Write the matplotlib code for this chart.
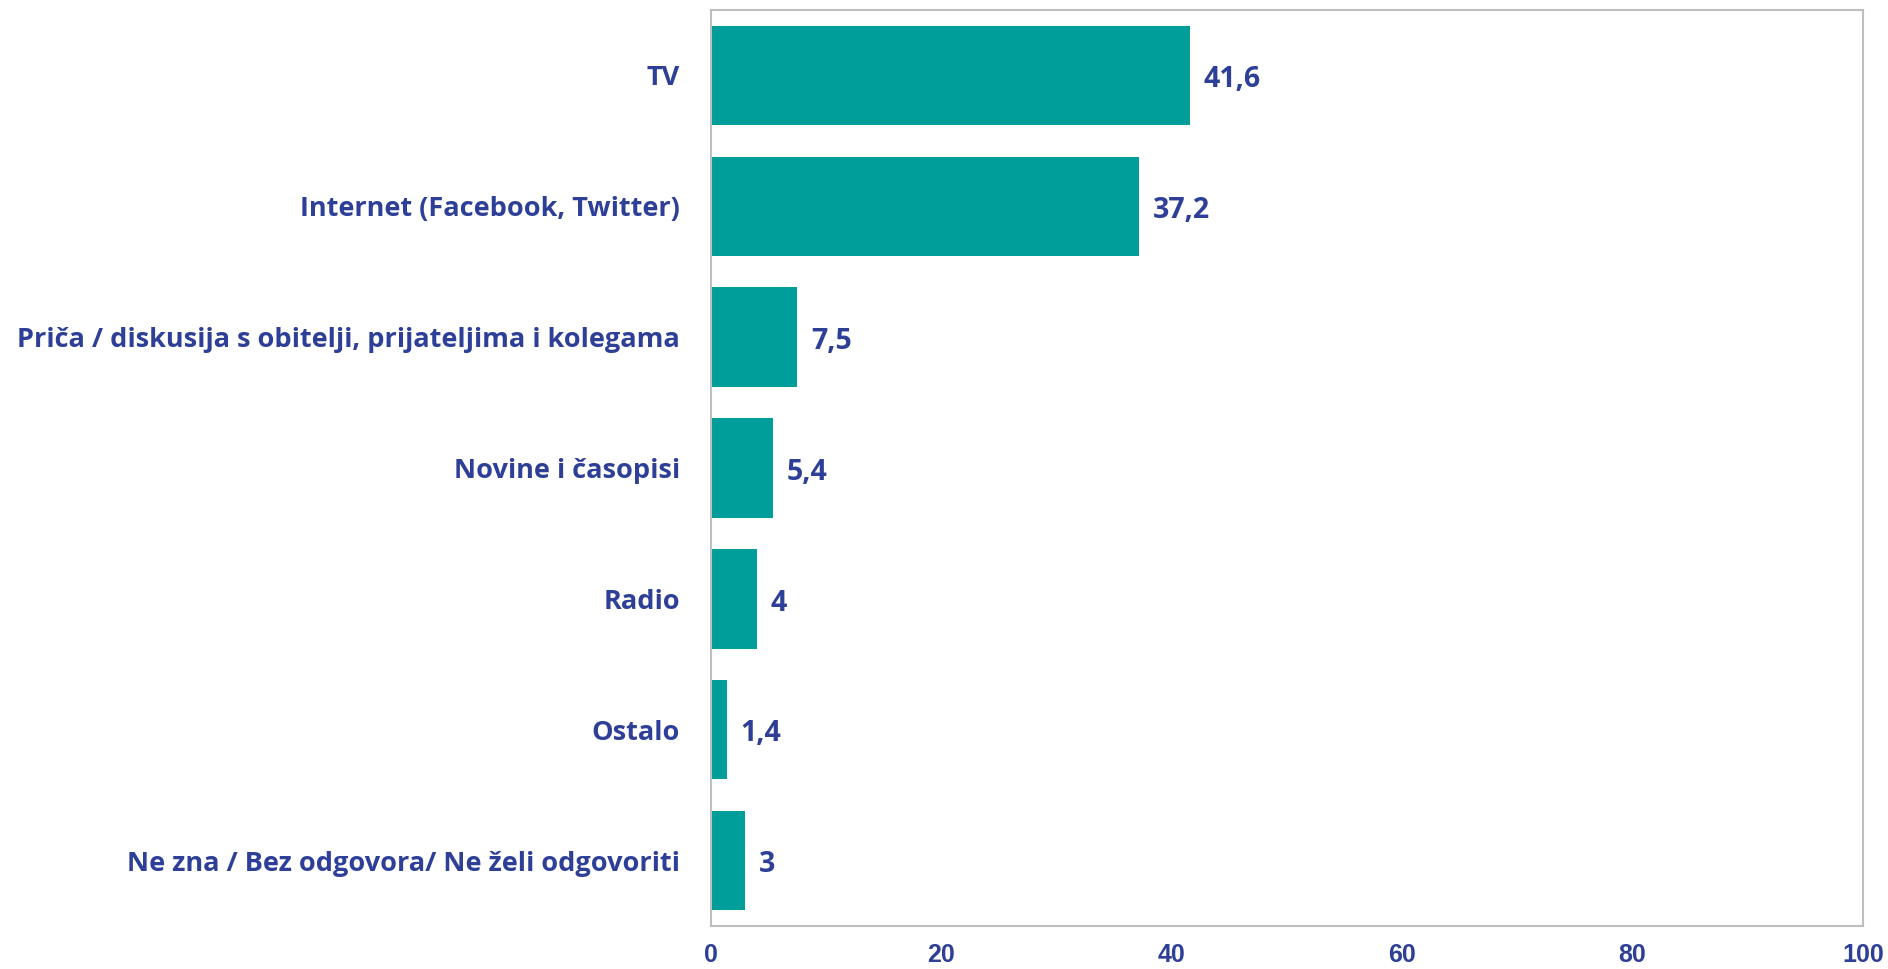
import matplotlib
matplotlib.use("Agg")
import matplotlib.pyplot as plt

categories = ["TV", "Internet (Facebook, Twitter)",
              "Priča / diskusija s obitelji, prijateljima i kolegama",
              "Novine i časopisi", "Radio", "Ostalo",
              "Ne zna / Bez odgovora/ Ne želi odgovoriti"]
values = [41.6, 37.2, 7.5, 5.4, 4.0, 1.4, 3.0]
value_labels = ["41,6", "37,2", "7,5", "5,4", "4", "1,4", "3"]
xticks = [0, 20, 40, 60, 80, 100]

TEXT = "#2E3F98"
BAR = "#009E9A"
GRAY = "#BFBFBF"
FONT = ["Open Sans", "DejaVu Sans"]

fig = plt.figure(figsize=(18.88, 9.69), dpi=100)
ax = fig.add_axes([710.5/1888, 1 - 926/969, (1863-710.5)/1888, (926-10)/969])

y = list(range(len(categories)))
ax.barh(y, values, height=0.76, color=BAR, zorder=2)
ax.set_ylim(len(categories) - 0.5, -0.5)
ax.set_xlim(0, 100)

for yi, v, lab in zip(y, values, value_labels):
    ax.annotate(lab, (v, yi), xytext=(10, -3), textcoords="offset points",
                va="center", ha="left", fontsize=20.5, fontweight="bold",
                color=TEXT, family=FONT)

ax.set_yticks(y)
ax.set_yticklabels(categories, fontsize=19.5, fontweight="bold", color=TEXT,
                   family=FONT)
ax.set_xticks(xticks)
ax.set_xticklabels([str(t) for t in xticks], fontsize=18, fontweight="bold",
                   color=TEXT, family=["Liberation Sans", "DejaVu Sans"])
ax.tick_params(axis="y", length=0, pad=22)
ax.tick_params(axis="x", length=0, pad=12.5)

for s in ax.spines.values():
    s.set_color(GRAY)
    s.set_linewidth(1.5)

fig.savefig("out.png", dpi=100)
